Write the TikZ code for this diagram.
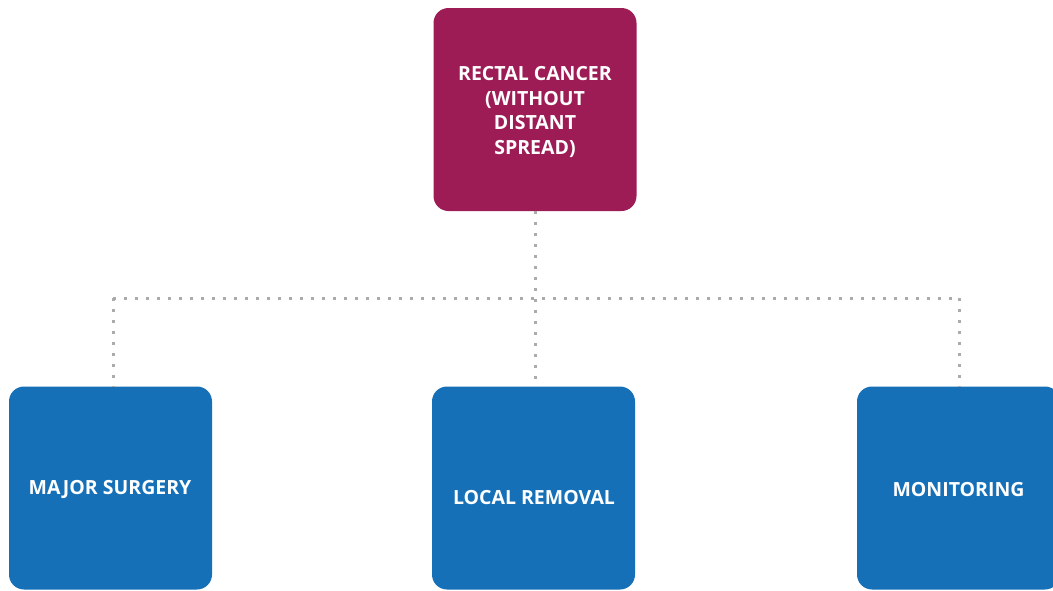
\documentclass[tikz,border=0pt]{standalone}
\usepackage{fontspec}
\setmainfont{Open Sans}
\begin{document}
\begin{tikzpicture}[x=1pt,y=-1pt,
  box/.style={rounded corners=15pt, minimum width=203pt, minimum height=203pt,
    inner sep=0pt},
  topbox/.style={box, fill=cancer},
  optbox/.style={box, fill=option},
  boxtext/.style={text=white, font=\bfseries\fontsize{19.5}{24.5}\selectfont,
    align=center, inner sep=0pt},
  link/.style={draw=linkgray, line width=3pt, dash pattern=on 3pt off 8pt}]
\definecolor{cancer}{HTML}{9E1C55}
\definecolor{option}{HTML}{1570B8}
\definecolor{linkgray}{HTML}{ABABAB}
\useasboundingbox (0,0) rectangle (1053,590);
\fill[white] (0,0) rectangle (1053,590);

% boxes
\node[topbox] (rc) at (535,109.5) {};
\node[optbox] (ms) at (110.5,488) {};
\node[optbox] (lr) at (533.5,488) {};
\node[optbox] (mo) at (958.5,488) {};

% labels
\node[boxtext] (rct) at (535,112) {RECTAL CANCER\\(WITHOUT\\DISTANT\\SPREAD)};
\node[boxtext] (mst) at (110,489) {MAJOR SURGERY};
\node[boxtext] (lrt) at (534,498) {LOCAL REMOVAL};
\node[boxtext] (mot) at (958.5,490) {MONITORING};

% treatment tree connectors
\coordinate (lft) at (113,298);
\coordinate (rgt) at (959,298);
\path[link] (rc.south) -- (lr.north -| rc.south);
\path[link] (lft) -- (rgt);
\path[link] (lft) -- (lft |- ms.north);
\path[link] (rgt) -- (rgt |- mo.north);
\end{tikzpicture}
\end{document}
